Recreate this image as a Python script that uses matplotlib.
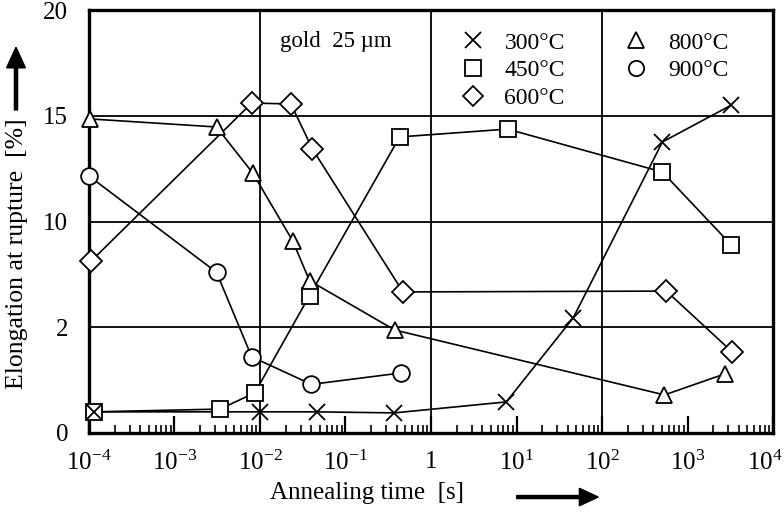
import matplotlib
matplotlib.use("Agg")
import matplotlib.pyplot as plt
from matplotlib.lines import Line2D
from matplotlib.patches import FancyArrow
from matplotlib.transforms import ScaledTranslation
from matplotlib.ticker import LogLocator, NullFormatter

plt.rcParams["font.family"] = ["Liberation Serif", "DejaVu Serif"]
plt.rcParams["mathtext.fontset"] = "custom"
plt.rcParams["mathtext.rm"] = "Liberation Serif"
plt.rcParams["mathtext.it"] = "Liberation Serif:italic"

# annealing time [s] and elongation [%] per temperature
t300 = [1.15e-4, 1e-2, 0.046, 0.37, 7.6, 46, 508, 3240]
e300 = [1.0, 1.0, 1.0, 0.95, 1.47, 5.44, 13.76, 15.5]

t450 = [1.15e-4, 3.4e-3, 8.7e-3, 0.038, 0.43, 7.85, 508, 3240]
e450 = [1.0, 1.13, 1.9, 6.5, 14.0, 14.37, 12.34, 8.9]

t600 = [1.06e-4, 8.0e-3, 0.023, 0.041, 0.47, 565, 3340]
e600 = [8.13, 15.6, 15.56, 13.43, 6.67, 6.71, 3.83]

t800 = [1.03e-4, 3.1e-3, 8.2e-3, 0.024, 0.038, 0.376, 537, 2760]
e800 = [14.85, 14.47, 12.3, 9.1, 7.2, 4.87, 1.8, 2.8]

t900 = [1e-4, 3.1e-3, 8.0e-3, 0.040, 0.45]
e900 = [12.15, 7.6, 3.6, 2.3, 2.84]

xticks = [1e-4, 1e-3, 1e-2, 1e-1, 1, 1e1, 1e2, 1e3, 1e4]
xlabels = ["$10^{-4}$", "$10^{-3}$", "$10^{-2}$", "$10^{-1}$", "1",
           "$10^{1}$", "$10^{2}$", "$10^{3}$", "$10^{4}$"]
yticks = [0, 5, 10, 15, 20]
ylabels = ["0", "2", "10", "15", "20"]
xgrid = [1e-2, 1, 1e2]

fig = plt.figure(figsize=(7.84, 5.14), dpi=100)
ax = fig.add_axes([0.1135, 0.1576, 0.8725, 0.8229])

series = [
    (t300, e300, "x", 12, "300°C"),
    (t450, e450, "s", 12, "450°C"),
    (t600, e600, "D", 11, "600°C"),
    (t800, e800, "^", 12, "800°C"),
    (t900, e900, "o", 12, "900°C"),
]
for t, e, m, ms, lab in series:
    ax.plot(t, e, color="black", lw=1.2, zorder=2)
    # crosses on top so the x shows inside the square at 1e-4
    z = 4 if m == "x" else 3
    ax.plot(t, e, ls="none", marker=m, ms=ms, mfc="white", mec="black",
            mew=1.3, zorder=z, clip_on=False)

ax.set_xscale("log")
ax.set_xlim(1e-4, 1e4)
ax.set_ylim(0, 20)

ax.set_xticks(xticks)
ax.set_xticklabels(xlabels, fontsize=18)
ax.xaxis.set_minor_locator(LogLocator(base=10, subs=range(2, 10), numticks=20))
ax.xaxis.set_minor_formatter(NullFormatter())
ax.tick_params(axis="x", which="major", direction="in", length=12, width=1.6,
               pad=13, top=False)
ax.tick_params(axis="x", which="minor", direction="in", length=6, width=1.2,
               top=False)
# keep the last label inside the figure
last = ax.get_xticklabels()[-1]
last.set_transform(last.get_transform() +
                   ScaledTranslation(-6 / 72, 0, fig.dpi_scale_trans))

ax.set_yticks(yticks)
ax.set_yticklabels(ylabels, fontsize=18)
ax.tick_params(axis="y", length=0, pad=15, right=False)

ax.yaxis.grid(True, color="black", lw=1.3)
for g in xgrid:
    ax.axvline(g, color="black", lw=1.3, zorder=1)
ax.set_axisbelow(True)

for s in ax.spines.values():
    s.set_linewidth(2.4)

# legend blocks
ax.text(0.279, 0.925, "gold  25 µm", transform=ax.transAxes, fontsize=16.5,
        va="center", ha="left")

def handle(m, ms):
    return Line2D([], [], ls="none", marker=m, ms=ms, mfc="white",
                  mec="black", mew=1.3)

h1 = [handle(s[2], s[3] - 1) for s in series[:3]]
l1 = [s[4] for s in series[:3]]
h2 = [handle(s[2], s[3] - 1) for s in series[3:]]
l2 = [s[4] for s in series[3:]]
leg_kw = dict(loc="upper left", frameon=False, fontsize=17, handlelength=1.2,
              handletextpad=0.75, labelspacing=0.26, borderpad=0,
              borderaxespad=0)
leg1 = ax.legend(h1, l1, bbox_to_anchor=(0.54, 0.948), **leg_kw)
ax.add_artist(leg1)
ax.legend(h2, l2, bbox_to_anchor=(0.779, 0.948), **leg_kw)

# axis titles with arrows
fig.text(0.022, 0.506, "Elongation at rupture  [%]", rotation=90,
         fontsize=18.5, ha="center", va="center")
fig.text(0.468, 0.04, "Annealing time  [s]", fontsize=18,
         ha="center", va="center")
fig.patches.append(FancyArrow(
    0.0204, 0.786, 0, 0.122, width=0.004, head_width=0.024,
    head_length=0.04, length_includes_head=True, color="black",
    transform=fig.transFigure, figure=fig))
fig.patches.append(FancyArrow(
    0.659, 0.033, 0.104, 0, width=0.006, head_width=0.034,
    head_length=0.024, length_includes_head=True, color="black",
    transform=fig.transFigure, figure=fig))

fig.savefig("out.png", dpi=100)
